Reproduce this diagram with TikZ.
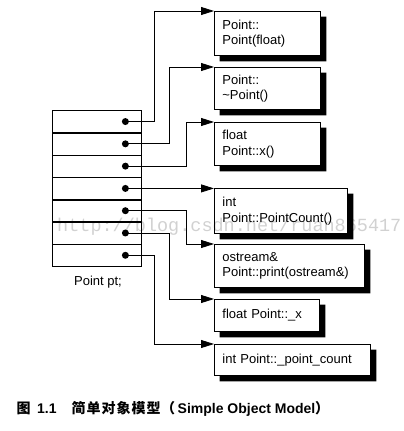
\documentclass[tikz,border=0pt]{standalone}
\usepackage{fontspec}
\setmainfont{Liberation Sans}
\newfontfamily\cjk{Noto Sans CJK SC}
\newfontfamily\wmfont{Liberation Mono}
\usetikzlibrary{arrows.meta,calc}
\begin{document}
\begin{tikzpicture}[x=1pt,y=-1pt,
  fbox/.style={draw, line width=0.8pt, fill=white, anchor=north west,
    inner xsep=8pt, inner ysep=0pt, align=left,
    font=\fontsize{13}{15.5}\selectfont},
  shadowfill/.style={fill=black},
  rowbox/.style={draw, line width=0.8pt, inner sep=0pt, anchor=north west,
    minimum width=89pt, minimum height=22.29pt},
  sepline/.style={line width=1.5pt},
  dot/.style={circle, fill=black, inner sep=0pt, minimum size=7pt},
  conn/.style={line width=0.8pt, -{Triangle[length=13pt,width=8pt]}},
  capt/.style={anchor=base west, inner sep=0pt, font=\bfseries\fontsize{14}{14}\selectfont},
  captcjk/.style={anchor=base west, inner sep=0pt, font=\cjk\bfseries\fontsize{14}{14}\selectfont}
]
\useasboundingbox (0,0) rectangle (404,431);

% object rows
\foreach \i in {1,...,7} {
  \node[rowbox] (r\i) at (52,{110+22.29*(\i-1)}) {};
}
\foreach \i in {1,...,6} {
  \draw[sepline] (r\i.south west) -- (r\i.south east);
}
\foreach \i in {1,...,7} {
  \node[dot] (d\i) at ($(r\i.center)+(28.5,0)$) {};
}
\node[font=\fontsize{13}{15}\selectfont, inner sep=0pt] (lbl) at (98,282) {Point pt;};

% member boxes
\node[fbox, text width=90pt, minimum height=44pt] (b1) at (214,11) {Point::\\Point(float)};
\node[fbox, text width=90pt, minimum height=42pt] (b2) at (214,67) {Point::\\\textasciitilde Point()};
\node[fbox, text width=90pt, minimum height=43pt] (b3) at (214,122) {float\\Point::x()};
\node[fbox, text width=117pt, minimum height=45pt] (b4) at (214,188) {int\\Point::PointCount()};
\node[fbox, text width=134pt, minimum height=43pt] (b5) at (214,244) {ostream\&\\Point::print(ostream\&)};
\node[fbox, text width=89pt, minimum height=32pt] (b6) at (214,299) {float Point::\_x};
\node[fbox, text width=140pt, minimum height=31pt] (b7) at (214,344) {int Point::\_point\_count};

% shadows: L-shaped strips right and below each box
\foreach \b in {b1,b2,b3,b4,b5,b6,b7} {
  \fill[shadowfill] ($(\b.north east)+(0.4,5.5)$) -- ($(\b.north east)+(5.5,5.5)$)
    -- ($(\b.south east)+(5.5,5.5)$) -- ($(\b.south west)+(5.5,5.5)$)
    -- ($(\b.south west)+(5.5,0.4)$) -- ($(\b.south east)+(0.4,0.4)$) -- cycle;
}

% connectors
\draw[conn] (d1.center) -| ($(b1.north west)+(-60,0)$) -- (b1.north west);
\draw[conn] (d2.center) -| ($(b2.north west)+(-45,0)$) -- (b2.north west);
\draw[conn] (d3.center) -| ($(b3.north west)+(-28,0)$) -- (b3.north west);
\draw[conn] (d4.center) -- (d4.center -| b4.north west);
\draw[conn] (d5.center) -| ($(b5.north west)+(-28,0)$) -- (b5.north west);
\draw[conn] (d6.center) -| ($(b6.north west)+(-45,0)$) -- (b6.north west);
\draw[conn] (d7.center) -| ($(b7.north west)+(-60,0)$) -- (b7.north west);

% caption
\node[captcjk] (c1) at (16.5,413) {图};
\node[capt] (c2) at (37,413) {1.1};
\node[captcjk] (c3) at (71.5,413) {\makebox[15pt][l]{简}\makebox[15pt][l]{单}\makebox[15pt][l]{对}\makebox[15pt][l]{象}\makebox[15pt][l]{模}\makebox[15pt][l]{型}};
\node[captcjk] (c4) at (161,413) {（};
\node[capt] (c5) at (177.5,413) {Simple Object Model};
\node[captcjk] (c6) at (315,413) {）};

% watermark
\node[anchor=west, inner sep=0pt, text opacity=0.18, font=\wmfont\fontsize{18.5}{20}\selectfont] (wm) at (57,227) {http://blog.csdn.net/ruan865417};
\end{tikzpicture}
\end{document}
